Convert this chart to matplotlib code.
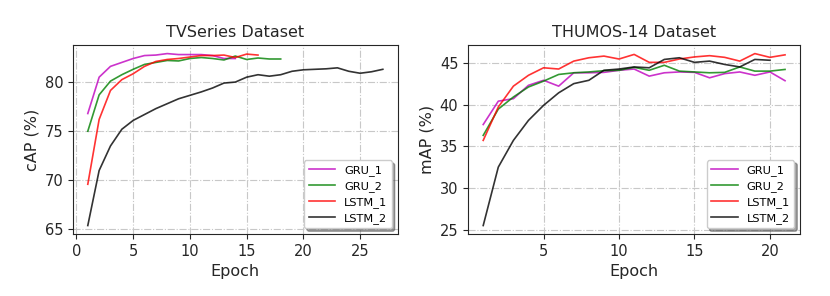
import matplotlib
matplotlib.use("Agg")
import matplotlib.pyplot as plt

# TVSeries dataset (cAP %)
tv_gru_1 = [76.8, 80.5, 81.6, 82.0, 82.4, 82.7, 82.75, 82.9, 82.8, 82.8, 82.8, 82.7, 82.4, 82.4]
tv_gru_2 = [75.0, 78.7, 80.1, 80.75, 81.3, 81.8, 82.0, 82.2, 82.15, 82.4, 82.5, 82.4, 82.25,
            82.65, 82.3, 82.45, 82.35, 82.35]
tv_lstm_1 = [69.6, 76.2, 79.15, 80.25, 80.85, 81.6, 82.1, 82.3, 82.4, 82.55, 82.7, 82.7, 82.75,
             82.5, 82.85, 82.75]
tv_lstm_2 = [65.4, 71.0, 73.5, 75.2, 76.1, 76.7, 77.3, 77.8, 78.3, 78.65, 79.0, 79.4, 79.9, 80.0,
             80.5, 80.75, 80.6, 80.75, 81.1, 81.25, 81.3, 81.35, 81.45, 81.1, 80.9, 81.05, 81.3]

# THUMOS-14 dataset (mAP %)
th_gru_1 = [37.6, 40.4, 40.7, 42.3, 42.9, 42.2, 43.8, 43.8, 43.85, 44.1, 44.25, 43.4, 43.8, 43.9,
            43.85, 43.2, 43.7, 43.9, 43.5, 43.9, 42.85]
th_gru_2 = [36.3, 39.45, 40.9, 42.1, 42.8, 43.6, 43.8, 43.9, 44.05, 44.1, 44.45, 44.1, 44.7, 44.0,
            43.9, 43.8, 43.85, 44.5, 44.0, 44.0, 44.2]
th_lstm_1 = [35.7, 39.7, 42.2, 43.5, 44.4, 44.25, 45.2, 45.6, 45.8, 45.45, 46.0, 45.05, 45.05,
             45.45, 45.7, 45.85, 45.65, 45.2, 46.1, 45.65, 45.95]
th_lstm_2 = [25.5, 32.5, 35.7, 38.1, 39.9, 41.4, 42.5, 42.9, 44.1, 44.25, 44.5, 44.4, 45.4, 45.6,
             45.05, 45.2, 44.8, 44.5, 45.4, 45.3]

labels = ["GRU_1", "GRU_2", "LSTM_1", "LSTM_2"]
colors = ["m", "g", "r", "k"]


def draw_panel(ax, series, title, ylabel):
    for values, label, color in zip(series, labels, colors):
        epochs = range(1, len(values) + 1)
        ax.plot(epochs, values, color=color, alpha=0.8, linewidth=1.2, label=label)
    ax.set_title(title, fontsize=11.5, color="#262626")
    ax.set_xlabel("Epoch", fontsize=11.5, color="#262626")
    ax.set_ylabel(ylabel, fontsize=11.5, color="#262626")
    ax.tick_params(labelsize=10.5, colors="#262626")
    ax.grid(True, linestyle="-.", color="#c8c8c8", linewidth=0.8)
    ax.legend(loc="lower right", fontsize=8.2, shadow=True, handlelength=2.3,
              labelspacing=0.45, borderpad=0.4)
    for spine in ax.spines.values():
        spine.set_color("#262626")


fig = plt.figure(figsize=(8.3, 2.96), dpi=100)
ax1 = fig.add_axes([0.088, 0.209, 0.391, 0.639])
ax2 = fig.add_axes([0.564, 0.209, 0.400, 0.639])

draw_panel(ax1, [tv_gru_1, tv_gru_2, tv_lstm_1, tv_lstm_2], "TVSeries Dataset", "cAP (%)")
draw_panel(ax2, [th_gru_1, th_gru_2, th_lstm_1, th_lstm_2], "THUMOS-14 Dataset", "mAP (%)")
ax1.set_xticks([0, 5, 10, 15, 20, 25])
ax2.set_xticks([5, 10, 15, 20])

fig.savefig("out.png", dpi=100)
